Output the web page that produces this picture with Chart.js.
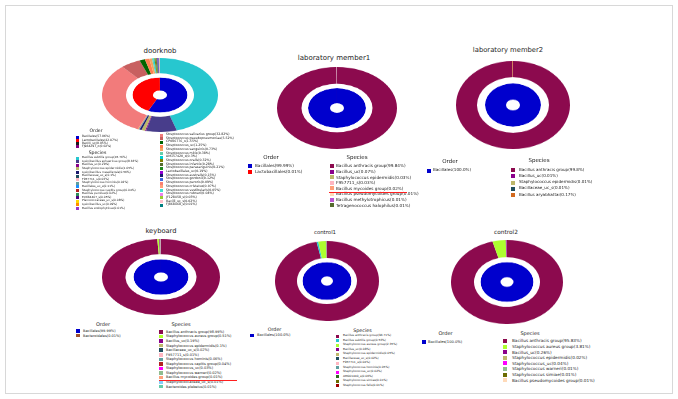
<!DOCTYPE html>
<html><head><meta charset="utf-8">
<script src="https://cdn.jsdelivr.net/npm/chart.js@4.4.1/dist/chart.umd.min.js"></script>
<style>
html,body{margin:0;padding:0;background:#fff;}
body{width:678px;height:399px;position:relative;overflow:hidden;font-family:"DejaVu Sans",sans-serif;}
.frame{position:absolute;left:5px;top:5px;width:666px;height:387px;border:1px solid #d8d8d8;}
.t{position:absolute;white-space:nowrap;color:#222;}
.sw{position:absolute;}
</style>
</head><body>
<div class="frame"></div>
<script>
// ---------------- DATA ----------------
// doorknob
const doorOrderLabels = ["Bacillales","Lactobacillales","Bacilli_uc","FJ984297_o"];
const doorOrderValues = [57.06, 42.87, 0.05, 0.02];
const doorSpeciesLeftLabels = ["Bacillus subtilis group","Lysinibacillus sphaericus group","Bacillus_uc","Staphylococcus epidermidis","Lysinibacillus massiliensis","Bacillaceae_uc_s","F957711_s","Staphylococcus hominis","Bacillales_uc_s","Staphylococcus capitis group","Bacillus pumilus","EU664407_s","Planococcaceae_uc_s","Lysinibacillus_uc","Bacillus endophyticus"];
const doorSpeciesLeftValues = [45.76, 8.63, 0.29, 1.05, 0.56, 0.1, 0.03, 0.02, 0.11, 0.04, 0.02, 0.05, 0.08, 0.09, 0.01];
const doorSpeciesRightLabels = ["Streptococcus salivarius group","Streptococcus pseudopneumoniae","CP006776_s","Streptococcus_uc","Streptococcus sanguinis","Streptococcus mitis","AM157420_s","Streptococcus oralis","Streptococcus infantis","Streptococcus parasanguinis","Lactobacillales_uc","Streptococcus australis","Streptococcus gordonii","Streptococcus peroris","Streptococcus cristatus","Streptococcus vestibularis","Streptococcus rubneri","JF128458_s","Bacilli_uc_s","FJ868468_s"];
const doorSpeciesRightValues = [32.82, 5.52, 1.55, 1.25, 0.73, 0.38, 0.3, 0.32, 0.28, 0.21, 0.19, 0.15, 0.12, 0.09, 0.07, 0.05, 0.04, 0.03, 0.02, 0.01];
// laboratory member1
const lab1OrderLabels = ["Bacillales","Lactobacillales"];
const lab1OrderValues = [99.99, 0.01];
const lab1SpeciesLabels = ["Bacillus anthracis group","Bacillus_uc","Staphylococcus epidermidis","F957711_s","Bacillus mycoides group","Bacillus pseudomycoides group","Bacillus methylotrophicus","Tetragenococcus halophilus"];
const lab1SpeciesValues = [99.84, 0.07, 0.03, 0.03, 0.02, 0.01, 0.01, 0.01];
// laboratory member2
const lab2OrderLabels = ["Bacillales"];
const lab2OrderValues = [100];
const lab2SpeciesLabels = ["Bacillus anthracis group","Bacillus_uc","Staphylococcus epidermidis","Bacillaceae_uc_s","Bacillus aryabhattai"];
const lab2SpeciesValues = [99.8, 0.01, 0.01, 0.01, 0.17];
// keyboard
const keyOrderLabels = ["Bacillales","Bacteroidales"];
const keyOrderValues = [99.99, 0.01];
const keySpeciesLabels = ["Bacillus anthracis group","Staphylococcus aureus group","Bacillus_uc","Staphylococcus epidermidis","Bacillaceae_uc_s","F957711_s","Staphylococcus hominis","Staphylococcus capitis group","Staphylococcus_uc","Staphylococcus warneri","Bacillus mycoides group","Staphylococcaceae_uc_s","Bacteroides plebeius"];
const keySpeciesValues = [98.99, 0.51, 0.19, 0.1, 0.02, 0.01, 0.06, 0.04, 0.03, 0.02, 0.01, 0.01, 0.01];
// control1
const c1OrderLabels = ["Bacillales"];
const c1OrderValues = [100];
const c1SpeciesLabels = ["Bacillus anthracis group","Bacillus subtilis group","Staphylococcus aureus group","Bacillus_uc","Staphylococcus epidermidis","Bacillaceae_uc_s","F957711_s","Staphylococcus hominis","Staphylococcus_uc","AM001440_s","Staphylococcus simiae","Staphylococcus felis"];
const c1SpeciesValues = [96.71, 0.53, 2.35, 0.08, 0.05, 0.02, 0.04, 0.05, 0.02, 0.06, 0.01, 0.01];
// control2
const c2OrderLabels = ["Bacillales"];
const c2OrderValues = [100];
const c2SpeciesLabels = ["Bacillus anthracis group","Staphylococcus aureus group","Bacillus_uc","Staphylococcus epidermidis","Staphylococcus_uc","Staphylococcus warneri","Staphylococcus simiae","Bacillus pseudomycoides group"];
const c2SpeciesValues = [95.83, 3.81, 0.26, 0.02, 0.04, 0.01, 0.01, 0.01];
const titles = ["doorknob","laboratory member1","laboratory member2","keyboard","control1","control2"];

// ---------------- STYLE ----------------
const MAROON = "#8C0A4E", BLUE = "#0000CD";
const speciesColor = {
 "Bacillus anthracis group":MAROON, "Bacillus subtilis group":"#27C7CF", "Staphylococcus aureus group":"#ADFF2F",
 "Bacillus_uc":"#8B008B", "Staphylococcus epidermidis":"#BDB76B", "Bacillaceae_uc_s":"#1F4E5F", "F957711_s":"#FFB6C1",
 "Staphylococcus hominis":"#5F9EA0", "Staphylococcus capitis group":"#B22222", "Staphylococcus_uc":"#FF00FF",
 "Staphylococcus warneri":"#8FBC8F", "Bacillus mycoides group":"#FFA07A", "Staphylococcaceae_uc_s":"#87CEFA",
 "Bacteroides plebeius":"#66CDAA", "AM001440_s":"#2E6B1F", "Staphylococcus simiae":"#6B6B00", "Staphylococcus felis":"#A00000",
 "Bacillus pseudomycoides group":"#FFDAB9", "Bacillus methylotrophicus":"#BA55D3", "Tetragenococcus halophilus":"#556B2F",
 "Bacillus aryabhattai":"#D2691E",
 "Lysinibacillus sphaericus group":"#483D8B", "Lysinibacillus massiliensis":"#1A1A6E", "Bacillales_uc_s":"#1E90FF",
 "Bacillus pumilus":"#2E8B57", "EU664407_s":"#4B0082", "Planococcaceae_uc_s":"#FFD700", "Lysinibacillus_uc":"#FF8C00",
 "Bacillus endophyticus":"#9932CC",
 "Streptococcus salivarius group":"#F27B7B", "Streptococcus pseudopneumoniae":"#C86060", "CP006776_s":"#006400",
 "Streptococcus_uc":"#FF7F50", "Streptococcus sanguinis":"#F4A460", "Streptococcus mitis":"#66CDAA", "AM157420_s":"#00CED1",
 "Streptococcus oralis":"#808000", "Streptococcus infantis":"#556B2F", "Streptococcus parasanguinis":"#228B22",
 "Lactobacillales_uc":"#9400D3", "Streptococcus australis":"#191970", "Streptococcus gordonii":"#4169E1",
 "Streptococcus peroris":"#FA8072", "Streptococcus cristatus":"#FFA07A", "Streptococcus vestibularis":"#40E0D0",
 "Streptococcus rubneri":"#EE82EE", "JF128458_s":"#9ACD32", "Bacilli_uc_s":"#FFC0CB", "FJ868468_s":"#008080"
};
const orderColor = {"Bacillales":BLUE, "Lactobacillales":"#FF0000", "Bacilli_uc":"#1A1A1A", "FJ984297_o":"#800080", "Bacteroidales":"#A0522D"};

function fmt(v){ return v === 100 ? "100.0" : String(v); }
function el(cls, css, txt){ const d=document.createElement('div'); d.className=cls; d.style.cssText=css; if(txt!==undefined) d.textContent=txt; document.body.appendChild(d); return d; }

function donut(L, oLabels, oVals, sLabels, sVals){
  const w = 2*L.rx;
  const wrap = document.createElement('div');
  wrap.style.cssText = `position:absolute;left:${L.cx-L.rx}px;top:${L.cy-L.rx}px;width:${w}px;height:${w}px;transform:scaleY(${L.ry/L.rx});transform-origin:50% 50%;`;
  const c = document.createElement('canvas'); c.width = w; c.height = w;
  wrap.appendChild(c); document.body.appendChild(wrap);
  new Chart(c, {type:'doughnut', data:{labels:sLabels, datasets:[
      {data:sVals, backgroundColor:sLabels.map(s=>speciesColor[s]), borderWidth:0, weight:L.rx-L.ring},
      {data:[1], backgroundColor:['#ffffff'], borderWidth:0, weight:L.ring-L.inner},
      {data:oVals, backgroundColor:oLabels.map(s=>orderColor[s]), borderWidth:0, weight:L.inner-L.hole}
    ]},
    options:{responsive:false, animation:false, events:[], cutout:(L.hole/L.rx*100)+'%', hoverOffset:0,
      layout:{padding:0}, plugins:{legend:{display:false}, tooltip:{enabled:false}}}});
}
function title(text, x, y, fs){ el('t', `left:${x}px;top:${y-fs*0.6}px;font-size:${fs}px;line-height:${fs*1.2}px;transform:translateX(-50%);color:#1e1e1e;`, text); }
function head(text, x, y, fs){ el('t', `left:${x}px;top:${y-fs*0.6}px;font-size:${fs}px;line-height:${fs*1.2}px;transform:translateX(-50%);`, text); }
function legend(labels, vals, cmap, o){
  labels.forEach((lab,i)=>{
    const cy = o.y + i*o.gap;
    el('sw', `left:${o.sx}px;top:${cy-o.sw/2}px;width:${o.sw}px;height:${o.sw}px;background:${cmap[lab]};`);
    el('t', `left:${o.tx}px;top:${cy-o.fs*0.6}px;font-size:${o.fs}px;line-height:${o.fs*1.2}px;`, `${lab}(${fmt(vals[i])}%)`);
  });
}

// ---------------- LAYOUT ----------------
const P = [
 {cx:160, cy:95, rx:58, ry:37, hole:7, inner:27.5, ring:34},
 {cx:337, cy:108, rx:60, ry:41, hole:7, inner:29, ring:35.5},
 {cx:513, cy:105, rx:57, ry:44, hole:7, inner:28, ring:36},
 {cx:161, cy:277, rx:59, ry:38, hole:7, inner:27.5, ring:35.5},
 {cx:327, cy:281, rx:52, ry:40, hole:6, inner:24.5, ring:30},
 {cx:507, cy:282, rx:56, ry:42, hole:6.5, inner:26.5, ring:33}
];
donut(P[0], doorOrderLabels, doorOrderValues, doorSpeciesLeftLabels.concat(doorSpeciesRightLabels), doorSpeciesLeftValues.concat(doorSpeciesRightValues));
donut(P[1], lab1OrderLabels, lab1OrderValues, lab1SpeciesLabels, lab1SpeciesValues);
donut(P[2], lab2OrderLabels, lab2OrderValues, lab2SpeciesLabels, lab2SpeciesValues);
donut(P[3], keyOrderLabels, keyOrderValues, keySpeciesLabels, keySpeciesValues);
donut(P[4], c1OrderLabels, c1OrderValues, c1SpeciesLabels, c1SpeciesValues);
donut(P[5], c2OrderLabels, c2OrderValues, c2SpeciesLabels, c2SpeciesValues);

title(titles[0], 160, 51, 7);
title(titles[1], 334, 58, 7);
title(titles[2], 508, 50, 6.8);
title(titles[3], 161, 231, 6.7);
title(titles[4], 325, 232, 5.4);
title(titles[5], 506, 232, 5.8);

// doorknob legends
head("Order", 96, 131, 4.6);
legend(doorOrderLabels, doorOrderValues, orderColor, {sx:76, tx:82, y:137, gap:3.3, sw:3, fs:3});
head("Species", 97.5, 153, 4.6);
legend(doorSpeciesLeftLabels, doorSpeciesLeftValues, speciesColor, {sx:76, tx:82, y:158, gap:3.6, sw:3, fs:2.9});
legend(doorSpeciesRightLabels, doorSpeciesRightValues, speciesColor, {sx:160, tx:166, y:135, gap:3.7, sw:3, fs:3.2});
// laboratory member1
head("Order", 271, 157, 5.5);
legend(lab1OrderLabels, lab1OrderValues, orderColor, {sx:247.5, tx:255, y:166, gap:6, sw:4, fs:4.2});
head("Species", 357, 157.5, 5.5);
legend(lab1SpeciesLabels, lab1SpeciesValues, speciesColor, {sx:330, tx:336, y:166, gap:5.6, sw:4, fs:4.2});
el('sw', 'left:329px;top:191.5px;width:78px;height:1px;background:#ff2020;');
// laboratory member2
head("Order", 450, 161, 5.5);
legend(lab2OrderLabels, lab2OrderValues, orderColor, {sx:427, tx:433, y:170.5, gap:6, sw:4, fs:4.1});
head("Species", 539, 160.5, 5.5);
legend(lab2SpeciesLabels, lab2SpeciesValues, speciesColor, {sx:511, tx:519, y:170, gap:6.25, sw:4, fs:4.1});
// keyboard
head("Order", 103, 324, 5);
legend(keyOrderLabels, keyOrderValues, orderColor, {sx:76, tx:83, y:331, gap:4.6, sw:3.5, fs:3.5});
head("Species", 181, 324, 5);
legend(keySpeciesLabels, keySpeciesValues, speciesColor, {sx:159, tx:166, y:332, gap:4.55, sw:3.5, fs:3.5});
el('sw', 'left:159px;top:380px;width:78px;height:1px;background:#ff2020;');
// control1
head("Order", 274.5, 330, 4.8);
legend(c1OrderLabels, c1OrderValues, orderColor, {sx:250, tx:257, y:335.5, gap:4.5, sw:3.5, fs:3.6});
head("Species", 362.5, 331, 4.8);
legend(c1SpeciesLabels, c1SpeciesValues, speciesColor, {sx:336, tx:343, y:336, gap:4.5, sw:3, fs:2.9});
// control2
head("Order", 445.5, 333, 5);
legend(c2OrderLabels, c2OrderValues, orderColor, {sx:422, tx:428, y:342, gap:5.6, sw:4, fs:3.7});
head("Species", 530, 333, 5);
legend(c2SpeciesLabels, c2SpeciesValues, speciesColor, {sx:503, tx:512, y:341, gap:5.6, sw:4, fs:4.2});
</script>
</body></html>
